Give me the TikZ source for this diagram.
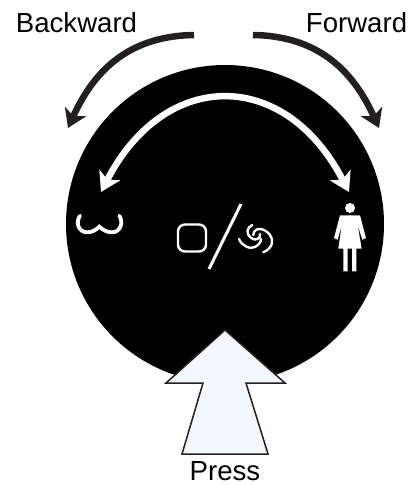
\documentclass[tikz,border=0pt]{standalone}
\usepackage{fontspec}
\setmainfont{Liberation Sans}
\usetikzlibrary{arrows.meta}
\definecolor{inkdark}{HTML}{231F20}
\definecolor{pressfill}{HTML}{F2F8FD}

\begin{document}
\begin{tikzpicture}[x=1pt, y=-1pt, every node/.style={font=\fontsize{27.6}{30}\selectfont, inner sep=0pt, anchor=base},
    turn/.style={line width=6.5pt, inkdark, -{Stealth[length=18pt, width=23pt, inset=5pt]}},
    dial/.style={line width=6.5pt, white, {Stealth[length=19pt, width=23pt, inset=5pt]}-{Stealth[length=19pt, width=23pt, inset=5pt]}},
    icon/.style={white, line width=2.4pt, line cap=round}]
    \useasboundingbox (0,0) rectangle (416,485);

    % Dial
    \fill[black] (225,224) circle[radius=159];

    % Labels
    \node (back) at (76.5,32) {Backward};
    \node (forw) at (356.5,32) {Forward};
    \node (press) at (225,480) {Press};

    % Outer arrows
    \coordinate (backs) at (194,35);
    \coordinate (backe) at (68,128);
    \coordinate (forws) at (253,35);
    \coordinate (forwe) at (379,128);
    \draw[turn] (backs) .. controls (125,36) and (92,75) .. (backe);
    \draw[turn] (forws) .. controls (322,36) and (355,75) .. (forwe);

    % Inner arrow
    \coordinate (diall) at (101,192);
    \coordinate (dialr) at (349,192);
    \draw[dial] (diall) .. controls (165,68) and (285,68) .. (dialr);

    % Press arrow
    \draw[fill=pressfill, draw=inkdark, line width=1.5pt, line join=miter]
        (225,330) -- (285,383) -- (246,383) -- (268,454) -- (182,454) -- (203,383) -- (166,383) -- cycle;

    % Mode icons
    \draw[icon, rounded corners=7pt] (178,224.5) rectangle (206,251.5);
    \draw[icon, line width=3pt, line cap=butt] (241,204) -- (209,269);
    \draw[icon] (252.3,225) .. controls (247,227) and (245,234) .. (251.7,238.3) .. controls (255,241) and (261,239) .. (260,234);
    \draw[icon] (239,239) .. controls (241,245) and (250,250) .. (255,247) .. controls (258,245) and (261,243) .. (261,239);
    \draw[icon] (263.3,252.3) .. controls (273,248) and (274,240) .. (270,235) .. controls (265,228) and (254,226) .. (253.3,235);

    % Left icon
    \draw[icon, line width=3.8pt] (80,215.7) .. controls (75,223) and (79,232.3) .. (87,232.3)
        .. controls (92,232.3) and (96,230) .. (99.3,226.7) .. controls (103,230) and (107,232.3) .. (112,232.3)
        .. controls (120,232.3) and (124,223) .. (119.3,215.7);

    % Right icon
    \fill[white] (350,208) circle[radius=5];
    \fill[white] (340,215.3) -- (360,215.3) -- (366,238) -- (362.3,239.7) -- (357.7,225.3) -- (361.7,248.7)
        -- (356.3,248.7) -- (356.3,271.3) -- (352,271.3) -- (352,248.7) -- (347.7,248.7) -- (347.7,271.3)
        -- (343.3,271.3) -- (343.3,248.7) -- (338.3,248.7) -- (341.7,225.3) -- (337.7,239.7) -- (334,238) -- cycle;
\end{tikzpicture}
\end{document}
